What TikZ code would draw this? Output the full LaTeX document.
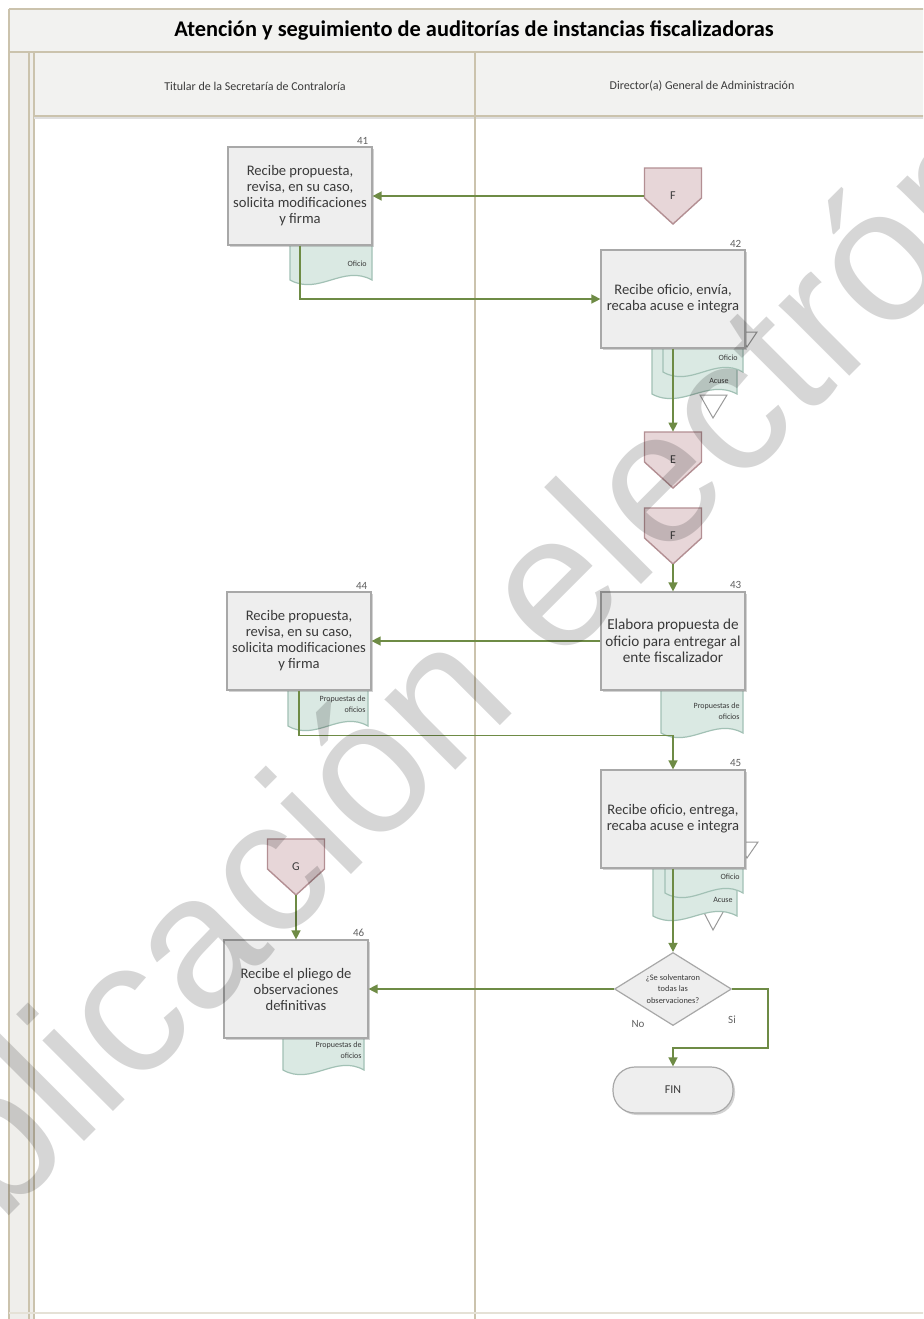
\documentclass[tikz,border=0pt]{standalone}
\usepackage{fontspec}
\setmainfont{Carlito}
\newfontfamily\wmfont{Liberation Sans}
\usetikzlibrary{arrows.meta,shapes.geometric,shadows,positioning}
\definecolor{lanecol}{HTML}{CBC3AD}
\definecolor{hdrfill}{HTML}{F2F2F0}
\definecolor{stripfill}{HTML}{EFEEEB}
\definecolor{boxfill}{HTML}{EEEEEE}
\definecolor{boxline}{HTML}{A8A8A8}
\definecolor{docfill}{HTML}{DAE9E3}
\definecolor{docline}{HTML}{A2C1B5}
\definecolor{offfill}{HTML}{E7D6D8}
\definecolor{offline}{HTML}{B38F93}
\definecolor{flowcol}{HTML}{6E8B45}
\definecolor{txtcol}{HTML}{3A3A3A}
\tikzset{
  laneline/.style={draw=lanecol,line width=0.7pt},
  proc/.style={draw=boxline,fill=boxfill,line width=0.6pt,minimum width=72pt,minimum height=49pt,
    inner sep=0pt,align=center,text=txtcol,font=\fontsize{7.3}{8}\selectfont,
    drop shadow={shadow xshift=1pt,shadow yshift=-1pt,opacity=0.35}},
  numtxt/.style={inner sep=0pt,text=txtcol!80,font=\fontsize{5.5}{6}\selectfont},
  doctxt/.style={inner sep=0pt,align=right,text=txtcol,font=\fontsize{4}{5.5}\selectfont},
  docsty/.style={draw=docline,fill=docfill,line width=0.6pt},
  archive/.style={draw=gray!80,fill=white,line width=0.5pt},
  offpg/.style={draw=offline,fill=offfill,line width=0.7pt},
  offtxt/.style={minimum width=28.5pt,minimum height=28pt,inner sep=0pt,text=txtcol,font=\fontsize{6}{7}\selectfont},
  decis/.style={diamond,aspect=1.6,draw=boxline,fill=boxfill,line width=0.6pt,minimum width=58.5pt,
    minimum height=36.5pt,inner sep=0pt,align=center,text=txtcol,font=\fontsize{4.2}{5.6}\selectfont},
  term/.style={draw=boxline,fill=boxfill,line width=0.6pt,rounded corners=11pt,minimum width=60pt,
    minimum height=23pt,inner sep=0pt,text=txtcol,font=\fontsize{6}{7}\selectfont,
    drop shadow={shadow xshift=1pt,shadow yshift=-1pt,opacity=0.35}},
  flow/.style={draw=flowcol,line width=0.7pt,-{Triangle[length=4.5pt,width=4.5pt]}},
  flowlbl/.style={inner sep=0pt,text=txtcol!80,font=\fontsize{5.5}{6}\selectfont},
  lanehd/.style={inner sep=0pt,text=txtcol,font=\fontsize{6}{7}\selectfont},
  wmark/.style={rotate=45,inner sep=0pt,text=black,text opacity=0.16,font=\wmfont\fontsize{94.5}{95}\selectfont}
}
\newcommand{\docfig}[4]{%
  \draw[docsty] (#1,#3) -- (#2,#3) -- (#2,#4)
    .. controls ({#2-0.35*(#2-#1)},{#4+16}) and ({#1+0.35*(#2-#1)},{#4-16}) .. (#1,#4) -- cycle;}
\newcommand{\offpage}[4]{%
  \draw[offpg] ({#2-28.5},{#3+28}) -- ({#2+28.5},{#3+28}) -- ({#2+28.5},{#3-2})
    -- (#2,{#3-28}) -- ({#2-28.5},{#3-2}) -- cycle;
  \node[offtxt] (#1) at (#2,#3) {#4};}
\begin{document}
\begin{tikzpicture}[x=0.5pt,y=0.5pt]
\useasboundingbox (0,0) rectangle (923,-1319);
\clip (0,0) rectangle (923,-1319);
\fill[white] (0,0) rectangle (923,-1319);
\fill[hdrfill] (9,-9) rectangle (940,-52);
\fill[hdrfill] (34,-52) rectangle (940,-116);
\fill[stripfill] (9,-52) rectangle (34,-1319);
\draw[laneline] (9,-9) -- (940,-9);
\draw[laneline] (9,-9) -- (9,-1319);
\draw[laneline] (9,-52) -- (940,-52);
\draw[laneline] (29,-52) -- (29,-1319);
\draw[laneline] (34,-52) -- (34,-1319);
\draw[laneline] (34,-116) -- (940,-116);
\draw[draw=gray!25,line width=1.2pt] (34,-118) -- (940,-118);
\draw[laneline] (475,-52) -- (475,-1319);
\draw[draw=lanecol!50,line width=0.7pt] (9,-1313) -- (940,-1313);
\node[inner sep=0pt,font=\bfseries\fontsize{11.2}{13}\selectfont] (title) at (474,-31) {Atención y seguimiento de auditorías de instancias fiscalizadoras};
\node[lanehd] (hdA) at (255,-86) {Titular de la Secretaría de Contraloría};
\node[lanehd] (hdB) at (702,-86) {Director(a) General de Administración};

\draw[archive] (737,-332) -- (757,-332) -- (747,-347) -- cycle;
\draw[archive] (700,-395) -- (727,-395) -- (713,-418) -- cycle;
\draw[archive] (737,-842) -- (758,-842) -- (747,-858) -- cycle;
\draw[archive] (700,-905) -- (727,-905) -- (713,-930) -- cycle;
\docfig{290}{372}{-230}{-280}
\docfig{652}{737}{-330}{-394}
\docfig{663}{743}{-330}{-372}
\docfig{661}{743}{-670}{-733}
\docfig{288}{368}{-670}{-726}
\docfig{653}{737}{-850}{-916}
\docfig{665}{743}{-850}{-893}
\docfig{283}{364}{-1010}{-1070}
\node[doctxt,anchor=east] (o41) at (367,-264) {Oficio};
\node[doctxt,anchor=east] (o42) at (738,-358) {Oficio};
\node[doctxt,anchor=east] (a42) at (729,-381) {Acuse};
\node[doctxt,anchor=east] (pr43) at (740,-711) {Propuestas de\\oficios};
\node[doctxt,anchor=east] (pr44) at (366,-704) {Propuestas de\\oficios};
\node[doctxt,anchor=east] (o45) at (740,-877) {Oficio};
\node[doctxt,anchor=east] (a45) at (733,-900) {Acuse};
\node[doctxt,anchor=east] (pr46) at (362,-1050) {Propuestas de\\oficios};

\node[proc] (p41) at (300,-196) {Recibe propuesta,\\revisa, en su caso,\\solicita modificaciones\\y firma};
\node[proc] (p42) at (673,-299) {Recibe oficio, envía,\\recaba acuse e integra};
\node[proc,font=\fontsize{7.6}{8.2}\selectfont] (p43) at (673,-641) {Elabora propuesta de\\oficio para entregar al\\ente fiscalizador};
\node[proc] (p44) at (299,-641) {Recibe propuesta,\\revisa, en su caso,\\solicita modificaciones\\y firma};
\node[proc] (p45) at (673,-819) {Recibe oficio, entrega,\\recaba acuse e integra};
\node[proc] (p46) at (296,-989) {Recibe el pliego de\\observaciones\\definitivas};
\node[numtxt,above left=1pt and 2pt of p41.north east] (n41) {41};
\node[numtxt,above left=1pt and 2pt of p42.north east] (n42) {42};
\node[numtxt,above left=1pt and 2pt of p43.north east] (n43) {43};
\node[numtxt,above left=1pt and 2pt of p44.north east] (n44) {44};
\node[numtxt,above left=1pt and 2pt of p45.north east] (n45) {45};
\node[numtxt,above left=1pt and 2pt of p46.north east] (n46) {46};

\offpage{cF1}{673}{-196}{F}
\offpage{cE}{673}{-460}{E}
\offpage{cF2}{673}{-536}{F}
\offpage{cG}{296}{-867}{G}
\node[decis] (dec) at (673,-989) {¿Se solventaron\\todas las\\observaciones?};
\node[term] (fin) at (673,-1090) {FIN};
\node[flowlbl] (lblNo) at (638,-1024) {No};
\node[flowlbl] (lblSi) at (732,-1020) {Si};

\draw[flow] (cF1.west) -- (p41.east);
\draw[flow] (p41.south) |- (p42.west);
\draw[flow] (p42.south) -- (cE.north);
\draw[flow] (cF2.south) -- (p43.north);
\draw[flow] (p43.west) -- (p44.east);
\draw[flow] (p44.south) -- ++(0,-45) -| (p45.north);
\draw[flow] (p45.south) -- (dec.north);
\draw[flow] (dec.west) -- (p46.east);
\draw[flow] (cG.south) -- (p46.north);
\draw[flow] (dec.east) -- ++(36,0) -- ++(0,-59) -| (fin.north);

\node[wmark] (wm) at (493,-662) {publicación electrónica};
\end{tikzpicture}
\end{document}
